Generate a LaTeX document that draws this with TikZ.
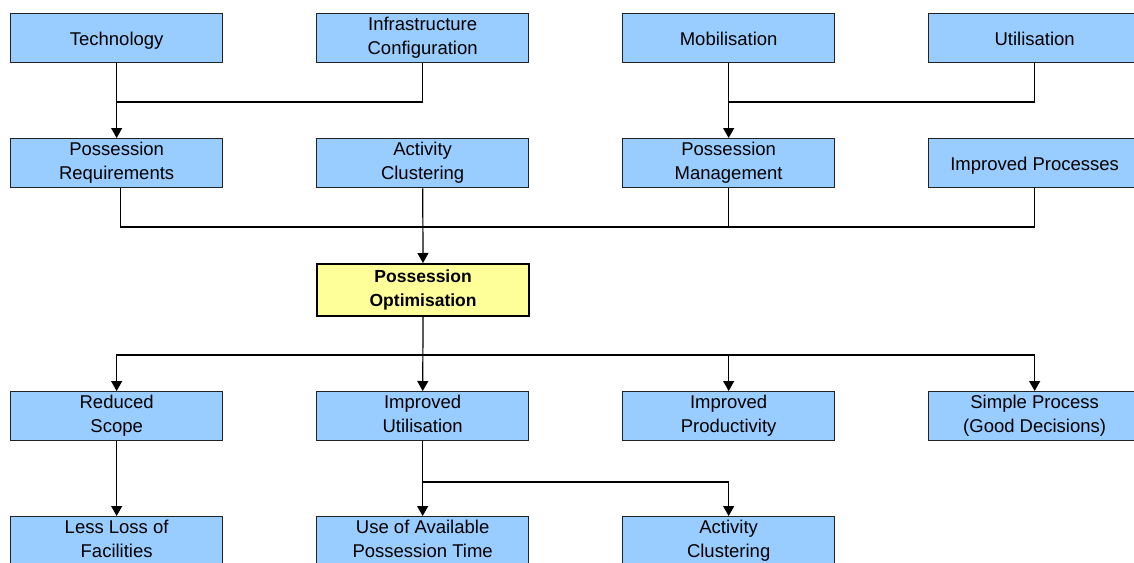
\documentclass[tikz,border=0pt]{standalone}
\usepackage{fontspec}
\setmainfont{Liberation Sans}
\usetikzlibrary{arrows.meta,calc}
\definecolor{boxblue}{HTML}{99CCFF}
\definecolor{keyyellow}{HTML}{FFFF99}
\definecolor{edge}{HTML}{222222}
\begin{document}
\begin{tikzpicture}[x=1pt,y=-1pt,
  box/.style={draw=edge,line width=1.3pt,fill=boxblue,minimum width=212pt,
    minimum height=49pt,anchor=north west,align=center,inner sep=0pt,
    font=\fontsize{18.5}{24}\selectfont,
    execute at begin node={\rule{0pt}{19.8pt}},
    execute at end node={\rule[-4.2pt]{0pt}{4.2pt}}},
  keybox/.style={box,fill=keyyellow,draw=black,line width=2.2pt,minimum height=52pt,
    font=\fontsize{17.5}{24}\selectfont\bfseries},
  link/.style={line width=1.2pt,draw=black},
  arr/.style={link,-{Triangle[length=10pt,width=11pt]}}]
\useasboundingbox (0,0) rectangle (1134,562);
\clip (0,0) rectangle (1134,562);

% drivers
\node[box] (tech)  at (10,13)  {Technology};
\node[box] (infra) at (316,13) {Infrastructure\\Configuration};
\node[box] (mob)   at (622,13) {Mobilisation};
\node[box] (util)  at (928,13) {Utilisation};

% enablers
\node[box] (preq)  at (10,138)  {Possession\\Requirements};
\node[box] (aclus) at (316,138) {Activity\\Clustering};
\node[box] (pman)  at (622,138) {Possession\\Management};
\node[box] (iproc) at (928,138) {Improved Processes};

% central goal
\node[keybox] (popt) at (316,263) {Possession\\Optimisation};

% outcomes
\node[box] (rscope) at (10,391)  {Reduced\\Scope};
\node[box] (iutil)  at (316,391) {Improved\\Utilisation};
\node[box] (iprod)  at (622,391) {Improved\\Productivity};
\node[box] (simple) at (928,391) {Simple Process\\(Good Decisions)};

% benefits
\node[box] (lloss)    at (10,516)  {Less Loss of\\Facilities};
\node[box] (useavail) at (316,516) {Use of Available\\Possession Time};
\node[box] (aclus2)   at (622,516) {Activity\\Clustering};

% junction points
\coordinate (j1) at (116,102);
\coordinate (j2) at (728,102);
\coordinate (j3) at (422,227);
\coordinate (j4) at (422,355);
\coordinate (j5) at (422,482);

% top row into second row
\draw[arr] (tech) -- (preq);
\draw[link] (infra.south) |- (j1);
\draw[arr] (mob) -- (pman);
\draw[link] (util.south) |- (j2);

% second row into the goal
\draw[link] ([xshift=4pt]preq.south) |- (j3);
\draw[link] (j3) -| (iproc.south);
\draw[link] (pman.south) -- (pman.south |- j3);
\draw[arr] (aclus) -- (popt);

% goal into outcomes
\draw[arr] (popt) -- (iutil);
\draw[arr] (j4) -| (rscope);
\draw[arr] (j4) -| (iprod);
\draw[arr] (j4) -| (simple);

% outcomes into benefits
\draw[arr] (rscope) -- (lloss);
\draw[arr] (iutil) -- (useavail);
\draw[arr] (j5) -| (aclus2);
\end{tikzpicture}
\end{document}
